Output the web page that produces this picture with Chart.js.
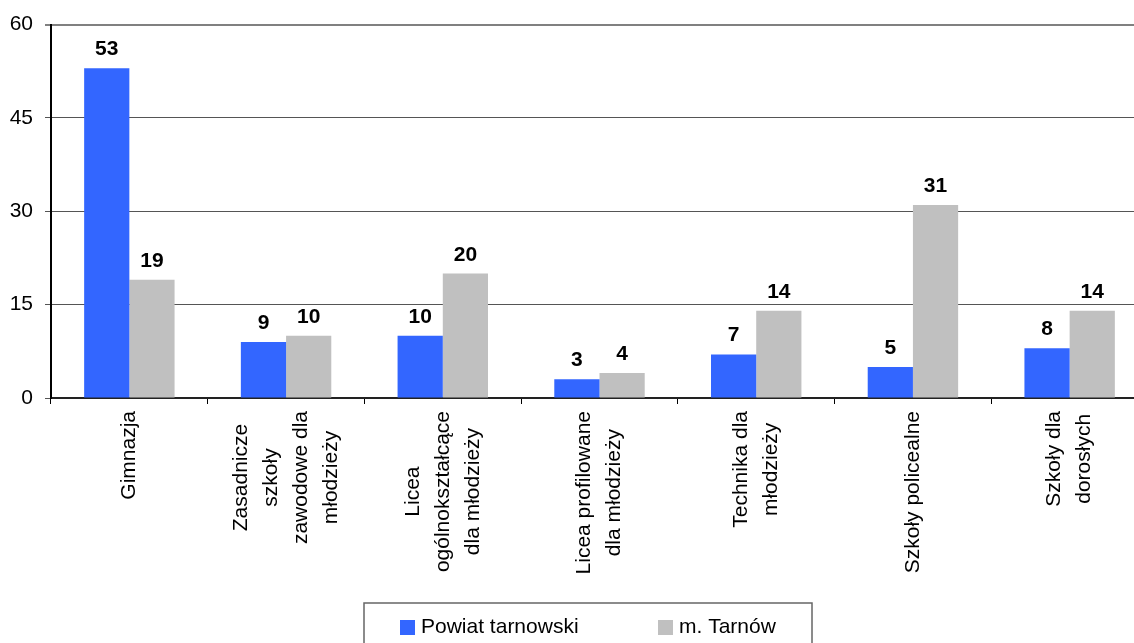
<!DOCTYPE html>
<html lang="pl">
<head>
<meta charset="UTF-8">
<title>Szkoły - Powiat tarnowski i m. Tarnów</title>
<script src="https://cdn.jsdelivr.net/npm/chart.js"></script>
<style>
    body, html {
        margin: 0;
        padding: 0;
        background: #ffffff;
        overflow: hidden;
    }
    .chart-box {
        width: 1148px;
        height: 643px;
    }
</style>
</head>
<body>
<div class="chart-box">
    <canvas id="schoolChart"></canvas>
</div>
<script>
    // Dane
    const categories = [
        ['Gimnazja'],
        ['Zasadnicze', 'szkoły', 'zawodowe dla', 'młodzieży'],
        ['Licea', 'ogólnokształcące', 'dla młodzieży'],
        ['Licea profilowane', 'dla młodzieży'],
        ['Technika dla', 'młodzieży'],
        ['Szkoły policealne'],
        ['Szkoły dla', 'dorosłych']
    ];
    const seriesNames = ['Powiat tarnowski', 'm. Tarnów'];
    const powiatValues = [53, 9, 10, 3, 7, 5, 8];
    const tarnowValues = [19, 10, 20, 4, 14, 31, 14];
    const yTicks = [0, 15, 30, 45, 60];

    const FONT = '"Liberation Sans", Arial, sans-serif';
    const colors = ['#3366ff', '#c0c0c0'];

    // etykiety wartości nad słupkami
    const valueLabels = {
        id: 'valueLabels',
        afterDatasetsDraw(chart) {
            const ctx = chart.ctx;
            ctx.save();
            ctx.font = 'bold 21px ' + FONT;
            ctx.fillStyle = '#000';
            ctx.textAlign = 'center';
            ctx.textBaseline = 'alphabetic';
            chart.data.datasets.forEach((ds, i) => {
                chart.getDatasetMeta(i).data.forEach((bar, j) => {
                    ctx.fillText(String(ds.data[j]), bar.x, bar.y - 13);
                });
            });
            ctx.restore();
        }
    };

    // pionowe etykiety kategorii (linie wyśrodkowane względem najdłuższej)
    const verticalLabels = {
        id: 'verticalLabels',
        afterDraw(chart) {
            const ctx = chart.ctx;
            const xs = chart.scales.x;
            const top = chart.chartArea.bottom + 13;
            const lineH = 30;
            ctx.save();
            ctx.font = '21px ' + FONT;
            ctx.fillStyle = '#000';
            ctx.textAlign = 'center';
            ctx.textBaseline = 'middle';
            categories.forEach((lines, i) => {
                const x = xs.getPixelForValue(i);
                const maxW = Math.max(...lines.map(l => ctx.measureText(l).width));
                ctx.save();
                ctx.translate(x, top + maxW / 2);
                ctx.rotate(-Math.PI / 2);
                lines.forEach((l, k) => {
                    ctx.fillText(l, 0, (k - (lines.length - 1) / 2) * lineH);
                });
                ctx.restore();
            });
            ctx.restore();
        }
    };

    // legenda w ramce pod wykresem
    const boxLegend = {
        id: 'boxLegend',
        afterDraw(chart) {
            const ctx = chart.ctx;
            const left = 364, right = 812, top = 603;
            ctx.save();
            ctx.strokeStyle = '#666';
            ctx.lineWidth = 1.5;
            ctx.strokeRect(left, top, right - left, 60);
            ctx.font = '21px ' + FONT;
            ctx.textBaseline = 'middle';
            ctx.textAlign = 'left';
            const itemX = [400, 658];
            chart.data.datasets.forEach((ds, i) => {
                ctx.fillStyle = ds.backgroundColor;
                ctx.fillRect(itemX[i], 620, 15, 15);
                ctx.fillStyle = '#000';
                ctx.fillText(ds.label, itemX[i] + 21, 627);
            });
            ctx.restore();
        }
    };

    new Chart(document.getElementById('schoolChart').getContext('2d'), {
        type: 'bar',
        data: {
            labels: categories,
            datasets: [{
                label: seriesNames[0],
                data: powiatValues,
                backgroundColor: colors[0]
            }, {
                label: seriesNames[1],
                data: tarnowValues,
                backgroundColor: colors[1]
            }]
        },
        options: {
            responsive: true,
            maintainAspectRatio: false,
            animation: false,
            layout: { padding: { top: 21, right: 0, left: 0, bottom: 0 } },
            plugins: {
                legend: { display: false },
                tooltip: { enabled: false }
            },
            datasets: {
                bar: { categoryPercentage: 0.577, barPercentage: 1.0 }
            },
            scales: {
                x: {
                    ticks: { display: false },
                    grid: {
                        offset: true,
                        drawOnChartArea: false,
                        drawTicks: true,
                        tickLength: 6,
                        color: '#000'
                    },
                    border: { color: '#222', width: 2 },
                    afterFit(scale) { scale.height = 245; }
                },
                y: {
                    min: 0,
                    max: 60,
                    afterBuildTicks(scale) {
                        scale.ticks = yTicks.map(v => ({ value: v }));
                    },
                    ticks: {
                        color: '#000',
                        font: { family: FONT, size: 21 },
                        padding: 12
                    },
                    grid: {
                        color: ctx => ctx.tick && ctx.tick.value === 60 ? '#808080' : '#555',
                        lineWidth: ctx => ctx.tick && ctx.tick.value === 60 ? 2 : 1,
                        tickLength: 6
                    },
                    border: { color: '#000', width: 2 },
                    afterFit(scale) { scale.width = 51; }
                }
            }
        },
        plugins: [valueLabels, verticalLabels, boxLegend]
    });
</script>
</body>
</html>
